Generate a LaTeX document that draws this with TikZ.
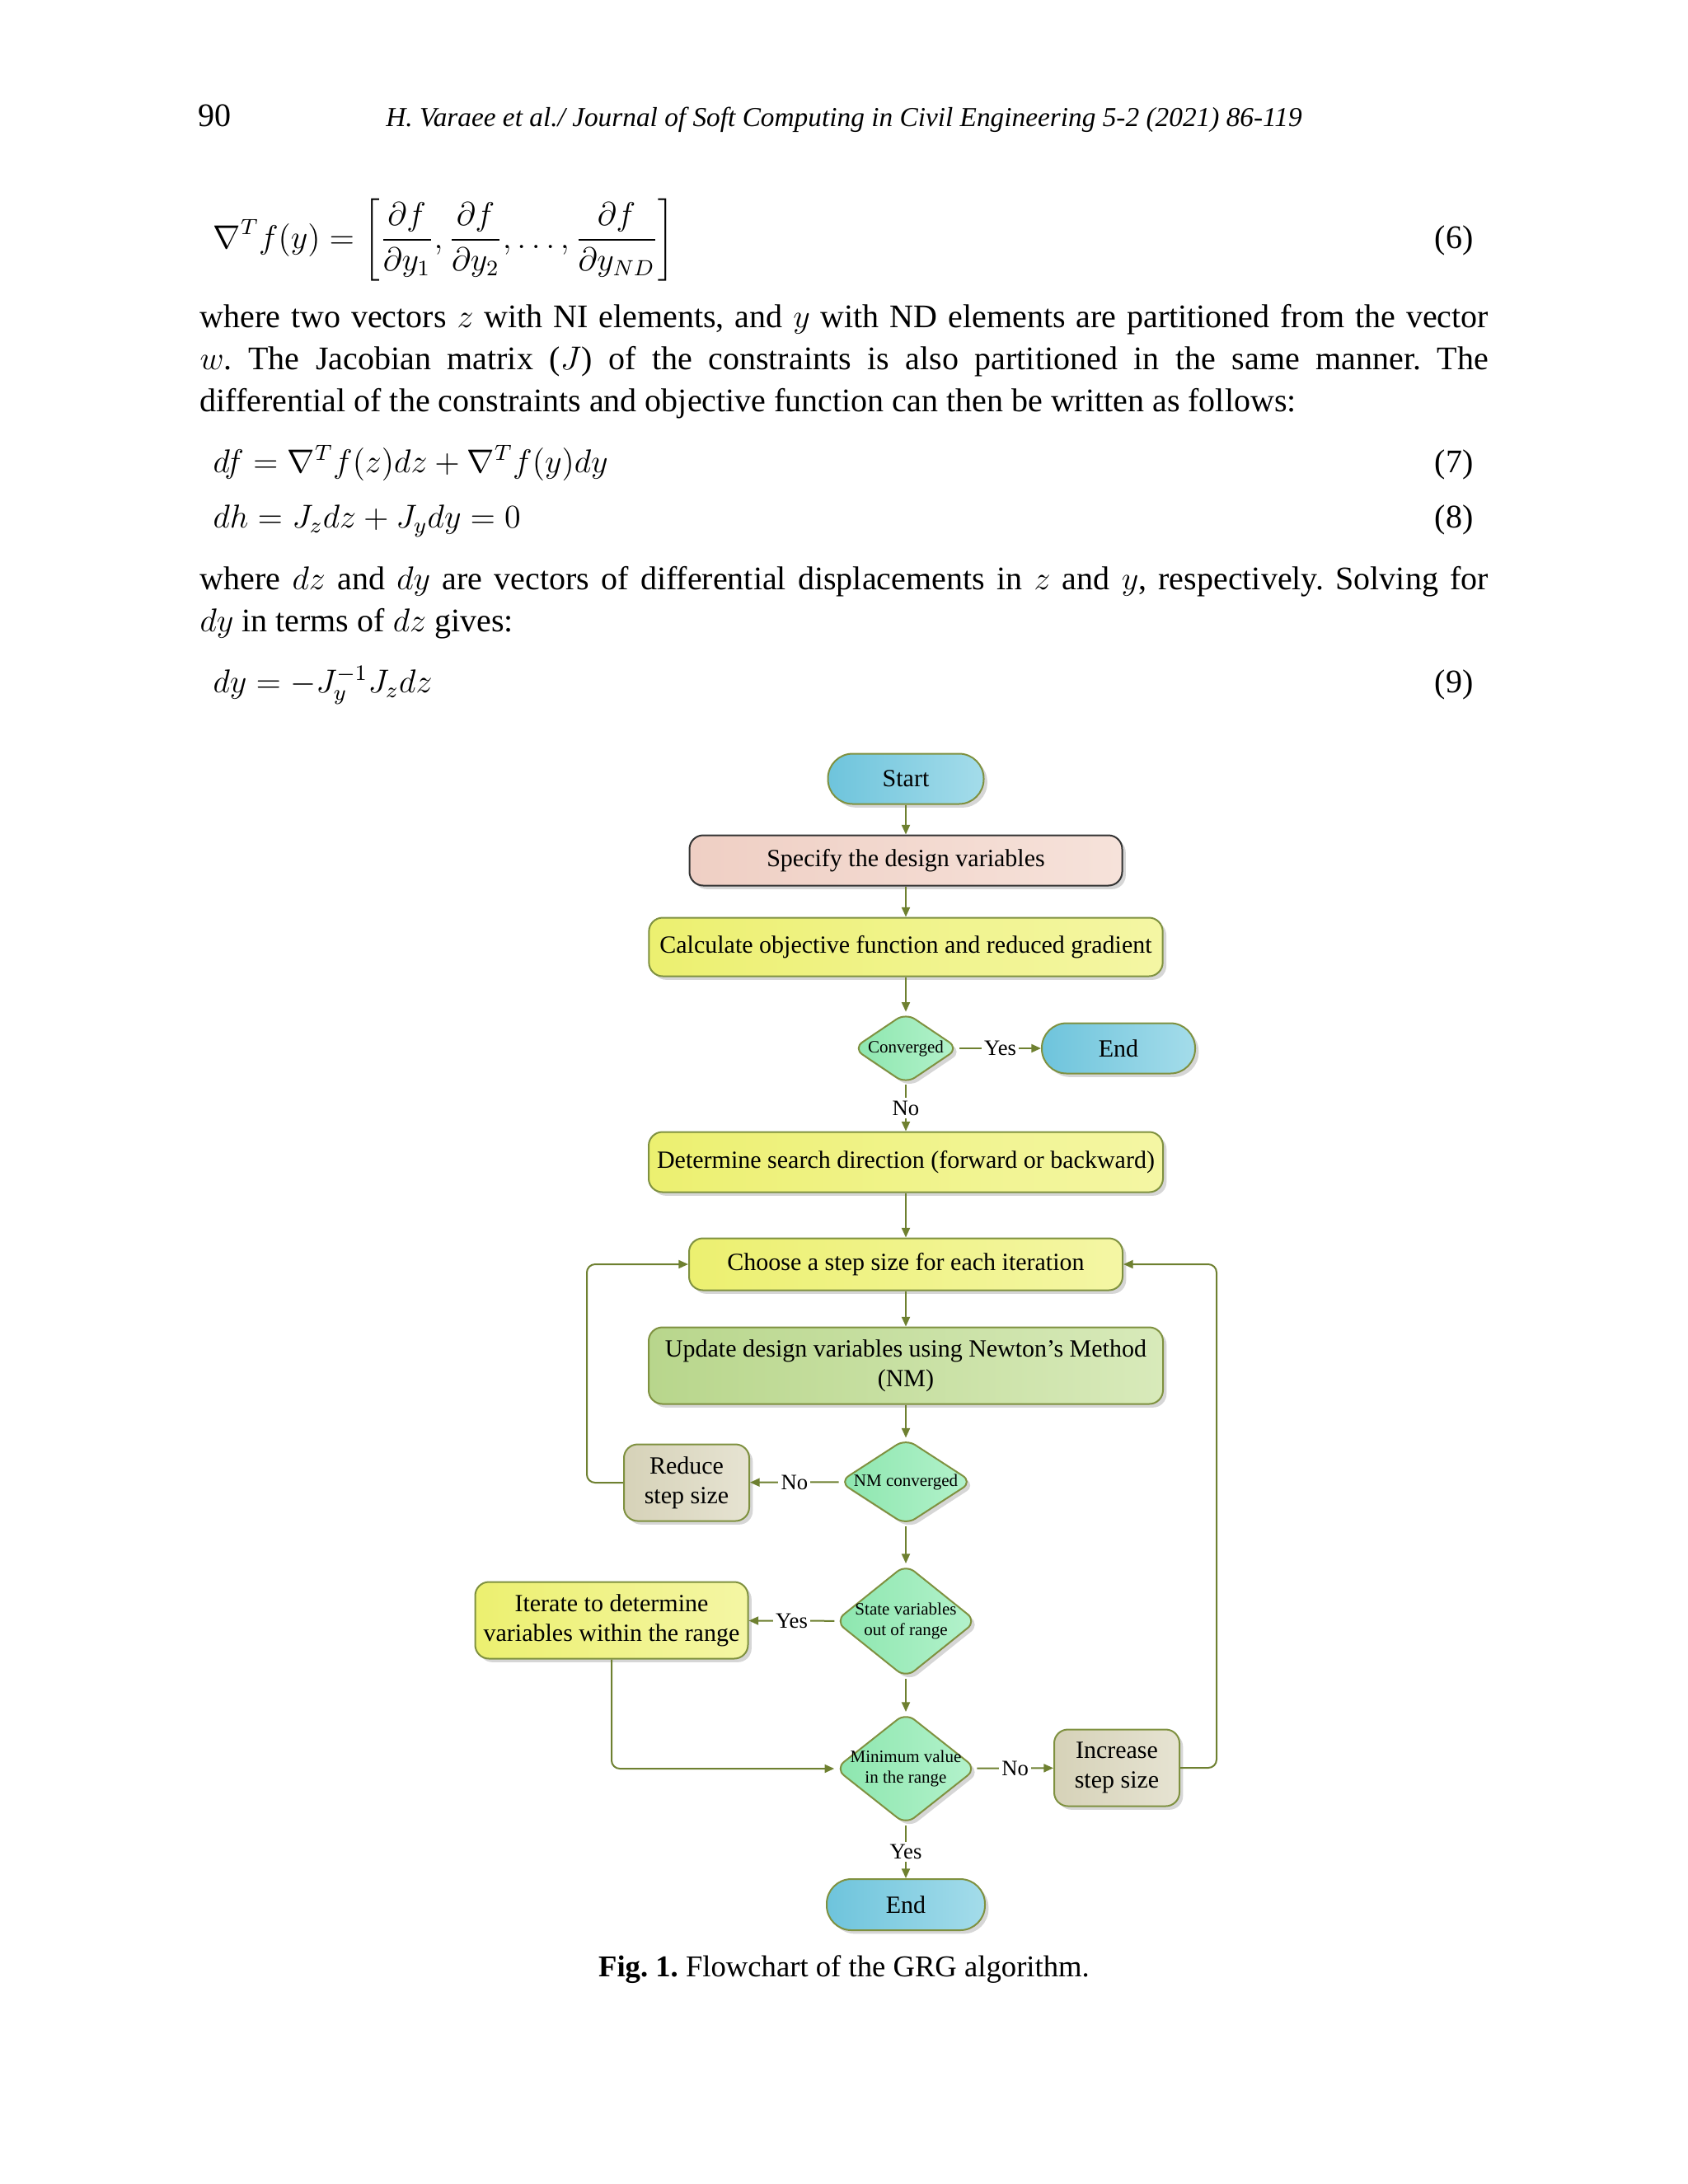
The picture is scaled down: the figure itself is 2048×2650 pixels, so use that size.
\documentclass[tikz,border=0pt]{standalone}
\usepackage{fontspec}
\setmainfont{Liberation Serif}
\usetikzlibrary{shapes.geometric,arrows.meta,shadows}
\frenchspacing
\definecolor{bord}{HTML}{7F9140}
\definecolor{arrc}{HTML}{6E8030}
\definecolor{bluA}{HTML}{6EC4DC}
\definecolor{bluB}{HTML}{A4DCEA}
\definecolor{yelA}{HTML}{ECF070}
\definecolor{yelB}{HTML}{F4F6A4}
\definecolor{grnA}{HTML}{B8D68C}
\definecolor{grnB}{HTML}{D8EABA}
\definecolor{minA}{HTML}{8CE6AE}
\definecolor{minB}{HTML}{B4F2CC}
\definecolor{tanA}{HTML}{D6D2B8}
\definecolor{tanB}{HTML}{E6E3D2}
\definecolor{pnkA}{HTML}{EFCFC4}
\definecolor{pnkB}{HTML}{F6E2DA}
\tikzset{
  shd/.style={drop shadow={shadow xshift=1.3pt, shadow yshift=-1.3pt, fill=black!35, opacity=0.45}},
  box/.style={rectangle, rounded corners=5pt, draw=bord, line width=0.6pt, shd,
    font=\fontsize{9}{10.8}\selectfont, align=center, inner sep=0pt},
  term/.style={box, rounded corners=9pt, left color=bluA, right color=bluB},
  ybox/.style={box, left color=yelA, right color=yelB},
  gbox/.style={box, left color=grnA, right color=grnB},
  tbox/.style={box, left color=tanA, right color=tanB, minimum width=45.6pt, minimum height=27.9pt},
  sbox/.style={box, draw=black!80, left color=pnkA, right color=pnkB},
  dia/.style={diamond, draw=bord, line width=0.6pt, rounded corners=4pt, shd,
    left color=minA, right color=minB, inner sep=0pt,
    font=\fontsize{6.3}{7.6}\selectfont},
  arr/.style={draw=arrc, line width=0.6pt, -{Triangle[length=3.5pt,width=3pt]}},
  lbl/.style={fill=white, inner sep=1pt, font=\fontsize{8}{9}\selectfont},
  body/.style={anchor=base west, inner sep=0pt, font=\fontsize{12}{15}\selectfont},
  eqn/.style={anchor=west, inner sep=0pt, font=\fontsize{12}{15}\selectfont},
  eqno/.style={anchor=base east, inner sep=0pt, font=\fontsize{12}{15}\selectfont}
}
\begin{document}
\begin{tikzpicture}[x=0.3pt,y=-0.3pt]
\useasboundingbox (0,0) rectangle (2048,2650);
\fill[white] (0,0) rectangle (2048,2650);

% header
\node[anchor=base west, inner sep=0pt, font=\fontsize{12}{14}\selectfont] (pg) at (240,153) {90};
\node[anchor=base, inner sep=0pt, font=\fontsize{10}{12}\selectfont\itshape] (hd) at (1024,153)
  {H. Varaee et al./ Journal of Soft Computing in Civil Engineering 5-2 (2021) 86-119};

% equation 6
\node[eqn] (e6) at (258,291) {$\displaystyle \nabla^{T} f(y) = \left[\frac{\partial f}{\partial y_1},\frac{\partial f}{\partial y_2},\dots,\frac{\partial f}{\partial y_{ND}}\right]$};
\node[eqno] (n6) at (1788,301) {(6)};

% paragraph 1
\node[body] (p1) at (242,397) {\makebox[469pt][s]{where two vectors $z$ with NI elements, and $y$ with ND elements are partitioned from the vector}};
\node[body] (p2) at (242,448) {\makebox[469pt][s]{$w$. The Jacobian matrix ($J$) of the constraints is also partitioned in the same manner. The}};
\node[body] (p3) at (242,499) {differential of the constraints and objective function can then be written as follows:};

% equations 7, 8
\node[eqn, anchor=base west] (e7) at (258,573) {$df = \nabla^{T} f(z)dz + \nabla^{T} f(y)dy$};
\node[eqno] (n7) at (1788,573) {(7)};
\node[eqn, anchor=base west] (e8) at (258,640) {$dh = J_z dz + J_y dy = 0$};
\node[eqno] (n8) at (1788,640) {(8)};

% paragraph 2
\node[body] (q1) at (242,715) {\makebox[469pt][s]{where $dz$ and $dy$ are vectors of differential displacements in $z$ and $y$, respectively. Solving for}};
\node[body] (q2) at (242,766) {$dy$ in terms of $dz$ gives:};

% equation 9
\node[eqn, anchor=base west] (e9) at (258,840) {$dy = -J_y^{-1} J_z dz$};
\node[eqno] (n9) at (1788,840) {(9)};

% flowchart
\node[term, minimum width=56.7pt, minimum height=18.3pt] (start) at (1099,945) {Start};
\node[sbox, minimum width=157.5pt, minimum height=18.3pt] (spec) at (1099,1044) {Specify the design variables};
\node[ybox, minimum width=187pt, minimum height=21.3pt] (calc) at (1099,1149) {Calculate objective function and reduced gradient};
\node[dia, minimum width=38.5pt, minimum height=26pt] (conv) at (1099,1272) {\makebox[0pt]{Converged}};
\node[term, minimum width=55.8pt, minimum height=18.3pt] (end1) at (1357,1272) {End};
\node[ybox, minimum width=187.2pt, minimum height=21.9pt] (det) at (1099,1410) {Determine search direction (forward or backward)};
\node[ybox, minimum width=157.8pt, minimum height=18.9pt] (choose) at (1099,1534) {Choose a step size for each iteration};
\node[gbox, minimum width=187.2pt, minimum height=27.9pt] (upd) at (1099,1657) {Update design variables using Newton’s Method\\(NM)};
\node[dia, minimum width=48.5pt, minimum height=31.5pt] (nm) at (1099,1798) {\makebox[0pt]{NM converged}};
\node[tbox] (red) at (833,1799) {Reduce\\step size};
\node[dia, minimum width=51.5pt, minimum height=41.4pt] (state) at (1099,1967)
  {\makebox[0pt]{\begin{tabular}{@{}c@{}}State variables\\out of range\end{tabular}}};
\node[ybox, minimum width=99.3pt, minimum height=27.9pt] (iter) at (742,1966) {Iterate to determine\\variables within the range};
\node[dia, minimum width=51.5pt, minimum height=40.8pt] (mini) at (1099,2146)
  {\makebox[0pt]{\begin{tabular}{@{}c@{}}Minimum value\\in the range\end{tabular}}};
\node[tbox] (inc) at (1355,2145) {Increase\\step size};
\node[term, minimum width=57.6pt, minimum height=18.6pt] (end2) at (1099,2311) {End};

\draw[arr] (start) -- (spec);
\draw[arr] (spec) -- (calc);
\draw[arr] (calc) -- (conv);
\draw[arr] (conv) -- node[lbl]{Yes} (end1);
\draw[arr] (conv) -- node[lbl]{No} (det);
\draw[arr] (det) -- (choose);
\draw[arr] (choose) -- (upd);
\draw[arr] (upd) -- (nm);
\draw[arr] (nm) -- node[lbl]{No} (red);
\draw[arr, rounded corners=3pt] (red.west) -- ++(-44,0) |- (choose.west);
\draw[arr] (nm) -- (state);
\draw[arr] (state) -- node[lbl]{Yes} (iter);
\draw[arr] (state) -- (mini);
\draw[arr, rounded corners=3pt] (iter.south) |- (mini.west);
\draw[arr] (mini) -- node[lbl]{No} (inc);
\draw[arr, rounded corners=3pt] (inc.east) -- ++(44,0) |- (choose.east);
\draw[arr] (mini) -- node[lbl]{Yes} (end2);

% caption
\node[anchor=base, inner sep=0pt, font=\fontsize{11}{13}\selectfont] (cap) at (1024,2398)
  {\textbf{Fig. 1.} Flowchart of the GRG algorithm.};
\end{tikzpicture}
\end{document}
